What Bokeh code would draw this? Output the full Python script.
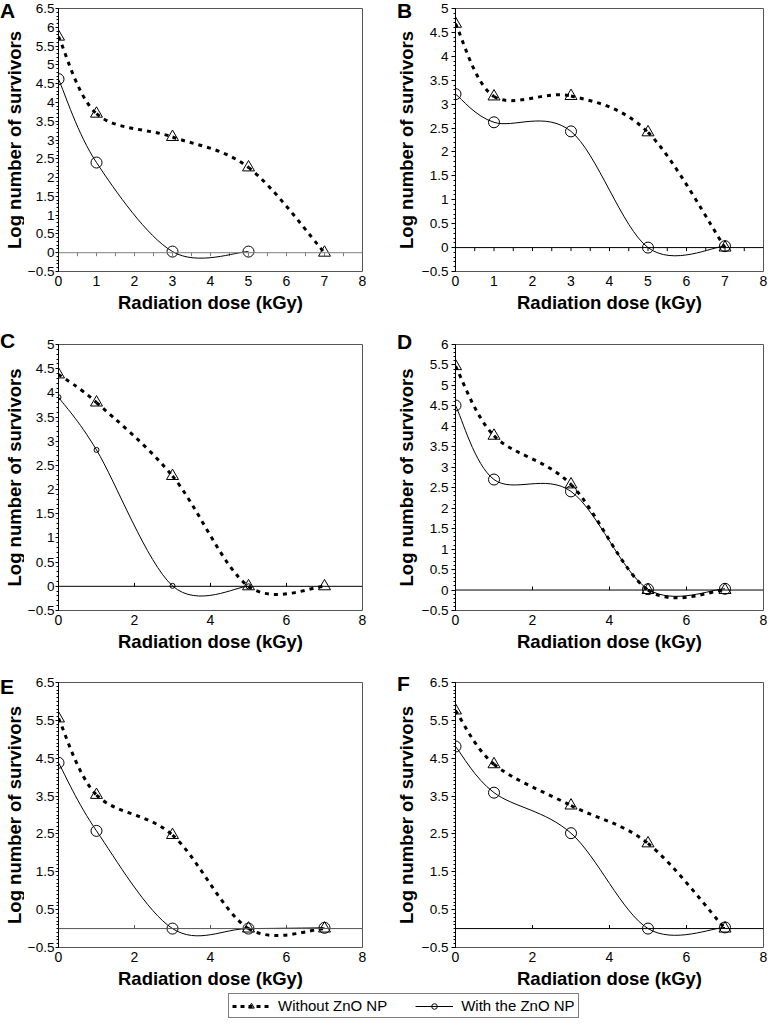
from bokeh.plotting import figure
from bokeh.layouts import column, row
from bokeh.models import (FixedTicker, Span, Range1d, Legend, LegendItem,
                          CustomJSTickFormatter, Div)
from bokeh.embed import file_html
from bokeh.resources import INLINE

FONT = "Liberation Sans"

# ---------------- data ----------------
dose = [0, 1, 3, 5, 7]
dose_A_with = [0, 1, 3, 5]
dose_C_with = [0, 1, 3, 5]

A_without = [5.75, 3.70, 3.08, 2.27, 0.00]
A_with = [4.62, 2.40, 0.03, 0.03]

B_without = [4.68, 3.16, 3.17, 2.41, 0.00]
B_with = [3.21, 2.62, 2.43, 0.00, 0.03]

C_without = [4.38, 3.80, 2.28, 0.00, 0.00]
C_with = [3.91, 2.82, 0.01, 0.00]

D_without = [5.47, 3.77, 2.58, 0.00, 0.00]
D_with = [4.51, 2.70, 2.41, 0.02, 0.03]

E_without = [5.55, 3.53, 2.47, 0.00, 0.00]
E_with = [4.38, 2.58, 0.00, 0.00, 0.02]

F_without = [5.76, 4.34, 3.25, 2.25, 0.00]
F_with = [4.81, 3.59, 2.52, 0.00, 0.03]

series_names = ["Without ZnO NP", "With the ZnO NP"]
panel_letters = ["A", "B", "C", "D", "E", "F"]
x_title = "Radiation dose (kGy)"
y_title = "Log number of survivors"


def frange(a, b, s):
    out, v = [], a
    while v <= b + 1e-9:
        out.append(round(v, 3))
        v += s
    return out


panels = [
    dict(xw=dose, yw=A_without, xc=dose_A_with, yc=A_with,
         ymax=6.5, ymaj=frange(-0.5, 6.5, 0.5), xticks=frange(0, 8, 1),
         zt=frange(0.5, 7.5, 0.5), zdir=-1, csize=11, zcol="#7f7f7f", lpos=(8, 26)),
    dict(xw=dose, yw=B_without, xc=dose, yc=B_with,
         ymax=5.0, ymaj=frange(-0.5, 5.0, 0.5), xticks=frange(0, 8, 1),
         zt=frange(0.5, 7.5, 0.5), zdir=-1, csize=11, zcol="black", lpos=(405, 26)),
    dict(xw=dose, yw=C_without, xc=dose_C_with, yc=C_with,
         ymax=5.0, ymaj=frange(-0.5, 5.0, 0.5), xticks=frange(0, 8, 2),
         zt=frange(2, 6, 2), zdir=1, csize=5, zcol="black", lpos=(8, 356)),
    dict(xw=dose, yw=D_without, xc=dose, yc=D_with,
         ymax=6.0, ymaj=frange(-0.5, 6.0, 0.5), xticks=frange(0, 8, 2),
         zt=frange(2, 6, 2), zdir=1, csize=11, zcol="black", lpos=(405, 357)),
    dict(xw=dose, yw=E_without, xc=dose, yc=E_with,
         ymax=6.5, ymaj=frange(-0.5, 6.5, 1.0), xticks=frange(0, 8, 2),
         zt=frange(2, 6, 2), zdir=1, csize=11, zcol="#555555", lpos=(8, 702)),
    dict(xw=dose, yw=F_without, xc=dose, yc=F_with,
         ymax=6.5, ymaj=frange(-0.5, 6.5, 1.0), xticks=frange(0, 8, 2),
         zt=frange(2, 6, 2), zdir=1, csize=11, zcol="black", lpos=(405, 699)),
]

# layout geometry (pixels); page offset is 8px
PAGE = 8
LETTER_BASE = 17.75   # baseline of a 21px letter inside a 21px line box
# each column = narrow side strip (letter above, y title below) + main plot
COLS = [dict(sw=24, sbl=0, w=368, bl=31, br=30, tout=3, lstand=1, x0=0),
        dict(sw=26, sbl=3, w=349, bl=37, br=4, tout=4, lstand=3, x0=392)]
ROWS = [dict(h=323, bt=8, bb=52, y0=0),
        dict(h=338, bt=21, bb=51, y0=323),
        dict(h=332, bt=21, bb=46, y0=661)]

fmt = CustomJSTickFormatter(code="""
const v = Math.round(tick * 10) / 10;
return v.toString().replace('-', '\u2212');
""")


def smooth(xs, ys):
    n = len(xs)
    d = dict(x0=[], y0=[], x1=[], y1=[], cx0=[], cy0=[], cx1=[], cy1=[])
    for i in range(n - 1):
        pm = i - 1 if i > 0 else i
        pp = i + 2 if i + 2 < n else i + 1
        d["x0"].append(xs[i]); d["y0"].append(ys[i])
        d["x1"].append(xs[i + 1]); d["y1"].append(ys[i + 1])
        d["cx0"].append(xs[i] + (xs[i + 1] - xs[pm]) / 6.0)
        d["cy0"].append(ys[i] + (ys[i + 1] - ys[pm]) / 6.0)
        d["cx1"].append(xs[i + 1] - (xs[pp] - xs[i]) / 6.0)
        d["cy1"].append(ys[i + 1] - (ys[pp] - ys[i]) / 6.0)
    return d


def blank(w, h, **kw):
    f = figure(width=w, height=h, x_range=Range1d(0, w), y_range=Range1d(0, h),
               output_backend="svg", toolbar_location=None,
               outline_line_color=None, background_fill_color="white",
               border_fill_color="white", **kw)
    f.title.visible = False
    f.grid.visible = False
    return f


def make_side(letter, lpos, hl, col, rw):
    w, h = col["sw"], rw["h"]
    row_top = PAGE + rw["y0"]
    # letter (HTML text)
    dx = lpos[0] - PAGE - col["x0"]
    dy = (lpos[1] - row_top) - LETTER_BASE
    html = ('<span style="position:relative; left:%dpx; top:%.2fpx; '
            'font-family:\'%s\'; font-weight:bold; font-size:21px; line-height:21px; '
            'color:black; white-space:nowrap;">%s</span>') % (dx, dy, FONT, letter)
    lf = Div(text=html, width=w, height=hl, margin=(0, 0, 0, 0),
             styles={"line-height": "21px", "overflow": "visible"})
    # title strip: a bare y axis whose label is the title, centred on the plot frame
    th = h - hl
    main_top = row_top + rw["bt"]
    main_bot = row_top + h - rw["bb"]
    t_top = row_top + hl
    d = t_top - main_top
    tb = (row_top + h) - (main_bot - d)
    tf = blank(w, th, min_border_left=col["sbl"], min_border_right=0,
               min_border_top=0, min_border_bottom=tb, x_axis_location=None)
    ax = tf.yaxis[0]
    ax.ticker = FixedTicker(ticks=[])
    ax.axis_line_color = None
    ax.major_tick_line_color = None
    ax.minor_tick_line_color = None
    ax.major_tick_out = 0
    ax.major_tick_in = 0
    ax.minor_tick_out = 0
    ax.major_label_standoff = 0
    ax.major_label_text_font_size = "0px"
    ax.axis_label = y_title
    ax.axis_label_standoff = 0
    ax.axis_label_text_font = FONT
    ax.axis_label_text_font_style = "bold"
    ax.axis_label_text_font_size = "18.5px"
    ax.axis_label_text_color = "black"
    return column(lf, tf)


def make_panel(cfg, col, rw):
    ymin, ymax = -0.5, cfg["ymax"]
    frame_h = rw["h"] - rw["bt"] - rw["bb"]
    p = figure(width=col["w"], height=rw["h"],
               x_range=Range1d(0, 8), y_range=Range1d(ymin, ymax),
               output_backend="svg", toolbar_location=None,
               min_border_left=col["bl"], min_border_right=col["br"],
               min_border_top=rw["bt"], min_border_bottom=rw["bb"],
               background_fill_color="white", border_fill_color="white")
    p.title.visible = False
    p.grid.visible = False
    p.outline_line_color = "#555555"
    p.outline_line_width = 1

    # y axis
    ya = p.yaxis[0]
    minor = frange(-0.5, ymax, 0.1)
    ya.ticker = FixedTicker(ticks=cfg["ymaj"], minor_ticks=minor)
    ya.formatter = fmt
    ya.axis_line_color = "black"
    ya.major_tick_line_color = "black"
    ya.minor_tick_line_color = "black"
    ya.major_tick_out = col["tout"]
    ya.major_tick_in = 0
    ya.minor_tick_out = 2
    ya.minor_tick_in = 0
    ya.major_label_standoff = col["lstand"]
    ya.major_label_text_font = FONT
    ya.major_label_text_font_size = "13.5px"
    ya.major_label_text_color = "black"

    # x axis (labels only; frame outline forms the border)
    xa = p.xaxis[0]
    xa.ticker = FixedTicker(ticks=cfg["xticks"], minor_ticks=[])
    xa.formatter = fmt
    xa.axis_line_color = None
    xa.major_tick_line_color = None
    xa.minor_tick_line_color = None
    xa.major_tick_out = 0
    xa.major_tick_in = 0
    xa.major_label_standoff = 4
    xa.major_label_text_font = FONT
    xa.major_label_text_font_size = "14px"
    xa.major_label_text_color = "black"
    xa.axis_label = x_title
    xa.axis_label_text_font = FONT
    xa.axis_label_text_font_style = "bold"
    xa.axis_label_text_font_size = "18.5px"
    xa.axis_label_text_color = "black"
    xa.axis_label_standoff = 3

    # zero line with its tick marks
    p.add_layout(Span(location=0, dimension="width", line_color=cfg["zcol"], line_width=1))
    tl = 3.5 * (ymax - ymin) / frame_h * cfg["zdir"]
    p.segment(x0=cfg["zt"], y0=[0] * len(cfg["zt"]), x1=cfg["zt"],
              y1=[tl] * len(cfg["zt"]), line_color=cfg["zcol"], line_width=1)

    # smoothed curves
    sw = smooth(cfg["xw"], cfg["yw"])
    p.bezier(source=sw, x0="x0", y0="y0", x1="x1", y1="y1",
             cx0="cx0", cy0="cy0", cx1="cx1", cy1="cy1",
             line_color="black", line_width=3, line_dash="4 5")
    sc = smooth(cfg["xc"], cfg["yc"])
    p.bezier(source=sc, x0="x0", y0="y0", x1="x1", y1="y1",
             cx0="cx0", cy0="cy0", cx1="cx1", cy1="cy1",
             line_color="black", line_width=1)

    # markers
    p.scatter(cfg["xw"], cfg["yw"], marker="triangle", size=12,
              fill_color=None, line_color="black", line_width=1)
    p.scatter(cfg["xc"], cfg["yc"], marker="circle", size=cfg["csize"],
              fill_color=None, line_color="black", line_width=1)
    return p


rows_out = []
for r in range(3):
    rw = ROWS[r]
    row_top = PAGE + rw["y0"]
    hl = max(panels[r * 2]["lpos"][1], panels[r * 2 + 1]["lpos"][1]) + 4 - row_top
    items = []
    for c in range(2):
        i = r * 2 + c
        items.append(make_side(panel_letters[i], panels[i]["lpos"], hl, COLS[c], rw))
        items.append(make_panel(panels[i], COLS[c], rw))
    rows_out.append(row(*items))

# legend strip
nan = float("nan")
pl = figure(width=767, height=26, x_range=Range1d(0, 1), y_range=Range1d(0, 1),
            output_backend="svg", toolbar_location=None, min_border=0,
            x_axis_location=None, y_axis_location=None, outline_line_color=None)
pl.title.visible = False
pl.grid.visible = False
r1 = pl.line(x=[nan], y=[nan], line_color="black", line_width=3, line_dash="4 4")
r2 = pl.scatter(x=[nan], y=[nan], marker="triangle", size=7, fill_color=None, line_color="black")
r3 = pl.line(x=[nan], y=[nan], line_color="black", line_width=1)
r4 = pl.scatter(x=[nan], y=[nan], marker="circle", size=5, fill_color=None, line_color="black")
leg = Legend(items=[LegendItem(label=series_names[0], renderers=[r1, r2]),
                    LegendItem(label=series_names[1], renderers=[r3, r4])],
             orientation="horizontal", location=(228, 1),
             glyph_width=38, glyph_height=14, label_standoff=8, spacing=28,
             padding=3, margin=0, border_line_color="black", border_line_width=1,
             background_fill_color="white", background_fill_alpha=1,
             label_text_font=FONT, label_text_font_size="15px",
             label_text_color="black", label_height=14)
pl.add_layout(leg)

layout = column(*rows_out, pl)

open("out.html", "w").write(file_html(layout, INLINE))
